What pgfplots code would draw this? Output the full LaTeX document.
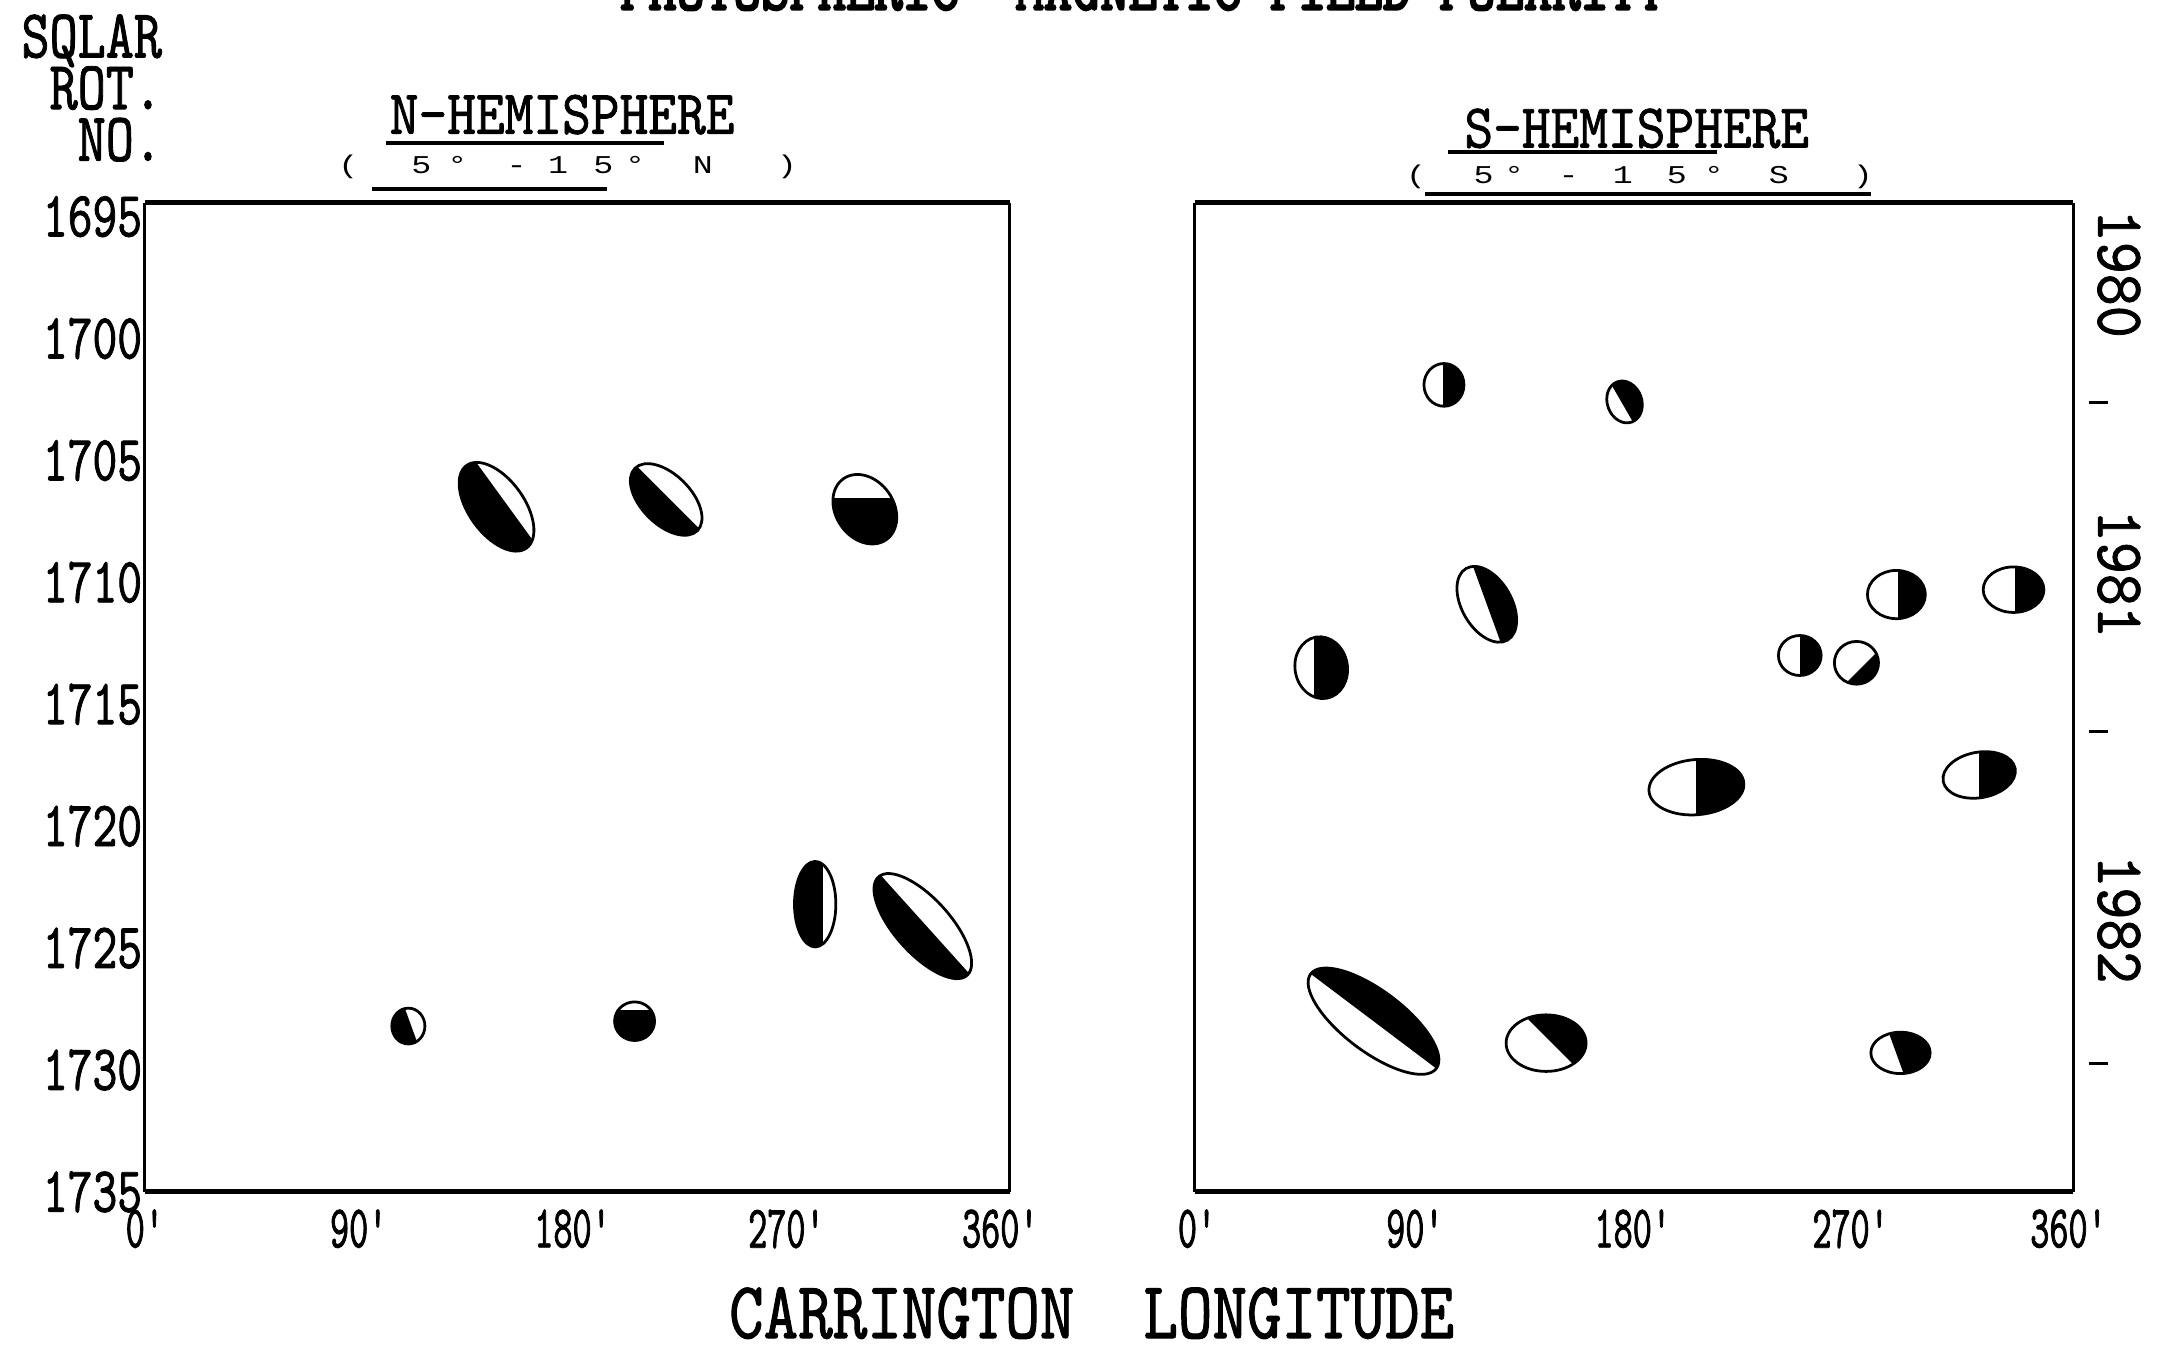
\documentclass[border=0pt]{standalone}
\usepackage{pgfplots}
\usepackage{pgfplotstable}
\pgfplotsset{compat=1.18}
\usepackage{fontspec}
\setmainfont{Liberation Mono}
% condensed typewriter face
\newcommand\tf[2]{\fontspec[FakeStretch=#1,FakeBold=1.2]{lmmono10-regular.otf}\fontsize{#2}{#2}\selectfont}
\newcommand\tfb[2]{\fontspec[FakeStretch=#1,FakeBold=3]{lmmono10-regular.otf}\fontsize{#2}{#2}\selectfont}
\newcommand\tfs{\fontspec[FakeStretch=1.3]{Liberation Mono}\fontsize{6.5pt}{6.5pt}\selectfont}
\newcommand\kk[1]{\kern#1\dimexpr 0.35pt\relax}
\def\U{0.35pt}

% custom mark: ellipse (semi-axes \ra,\rb in units \U, rotated \tht),
% black part = side of a chord, direction \phig (global), offset \cc
\pgfdeclareplotmark{blob}{%
  \pgfsetlinewidth{0.7pt}%
  \pgfsetstrokecolor{black}\pgfsetfillcolor{black}%
  \pgfmathsetmacro\relang{\phig-\tht}%
  \pgfscope
    \pgftransformrotate{\tht}%
    \pgfscope
      \pgfpathellipse{\pgfpointorigin}{\pgfpoint{\ra*\U}{0pt}}{\pgfpoint{0pt}{\rb*\U}}%
      \pgfusepath{clip}%
      \pgftransformrotate{\relang}%
      \pgfpathrectanglecorners{\pgfpoint{\cc*\U}{-100pt}}{\pgfpoint{100pt}{100pt}}%
      \pgfusepath{fill}%
    \endpgfscope
    \pgfpathellipse{\pgfpointorigin}{\pgfpoint{\ra*\U}{0pt}}{\pgfpoint{0pt}{\rb*\U}}%
    \pgfusepath{stroke}%
  \endpgfscope
}

\pgfplotstableread{
lon   rot    a    b    th   ph   c
148.0 1706.9 37   20   -54 -144 -7
219.4 1706.6 32   18   -45 -135 -2
303.0 1707.0 27   21   -55  -90 -8
282.1 1723.2 15   31     0  180 -6
327.4 1724.1 48   20   -48 -138 -2
110.9 1728.2 12   13     0  200 -2
206.1 1728.0 14.5 14     0  -90 -8
}\Ltab

\pgfplotstableread{
lon   rot    a    b    th   ph   c
102.0 1701.9 14.5 15.5   0    0 -1
176.6 1702.6 12.5 15.5  20   30 -2
119.7 1710.9 30   18   -60   20  0
51.3  1713.5 19   22.5  10    0 -5
288.9 1710.5 21   17.5   0    0  1
337.3 1710.3 22   16.5   0    0  1
249.0 1713.0 15.5 14.5   0    0  0
272.4 1713.3 16   15.5   0  -45  5
206.3 1718.4 34.5 20     5    0  0
323.1 1717.9 26.5 16.5  10    0  0
72.9  1728.0 57   22   -37   53  0
144.2 1728.9 29   20.5   0   45  3
290.6 1729.3 21.5 15     0   20 -3
}\Rtab

\pgfplotsset{
  blobaxis/.style={
    anchor=south west, scale only axis, height=250.95pt,
    ymin=1694.43, ymax=1735, y dir=reverse,
    xtick={0,90,180,270,360},
    xticklabels={0',90',180',270',360'},
    major tick length=0pt,
    separate axis lines,
    x axis line style={line width=1.3pt},
    y axis line style={line width=0.8pt},
    xticklabel style={font=\tf{0.6}{15.4pt}, inner sep=1pt, yshift=-3.3pt},
    yticklabel style={font=\tf{0.73}{16.4pt}, inner sep=0.5pt},
  },
  blobplot/.style={
    scatter, only marks, mark=blob,
    scatter/@pre marker code/.code={},
    scatter/@post marker code/.code={},
    visualization depends on={\thisrow{a} \as \ra},
    visualization depends on={\thisrow{b} \as \rb},
    visualization depends on={\thisrow{th} \as \tht},
    visualization depends on={\thisrow{ph} \as \phig},
    visualization depends on={\thisrow{c} \as \cc},
  },
}

\begin{document}
\begin{tikzpicture}
\begin{axis}[blobaxis, at={(36.75pt,39.2pt)}, width=219.45pt,
  xmin=0, xmax=364,
  ytick={1695,1700,1705,1710,1715,1720,1725,1730,1735},
  yticklabels={1695,1700,1705,1710,1715,1720,1725,1730,1735}]
\addplot[blobplot] table[x=lon, y=rot] {\Ltab};
\end{axis}
\begin{axis}[blobaxis, at={(303.1pt,39.2pt)}, width=222.95pt,
  xmin=-1, xmax=362, ytick=\empty]
\addplot[blobplot] table[x=lon, y=rot] {\Rtab};
\end{axis}

\begin{scope}[x=0.35pt, y=0.35pt]
  % title (cut by the top edge)
  \node[anchor=base west, inner sep=0] at (449,969)
    {\tfb{0.78}{17.5pt}PHOTOSPHERIC~~MAGNETIC FIELD POLARITY};
  % y axis title (one stacked node)
  \node[anchor=north east, inner sep=0, align=right,
        font=\tf{0.776}{17.5pt}] at (118,966)
    {SQLAR\\[-4.4pt]ROT.\\[-4.4pt]NO.};
  % panel headers
  \node[anchor=base west, inner sep=0] at (282,879) {\tf{0.873}{15.9pt}N-HEMISPHERE};
  \draw[line width=1pt] (280,872.5) -- (481,872.5);
  \node[anchor=base west, inner sep=0] at (244.75,850)
    {\tfs (\kk{38.5}5\kk{11.5}°\kk{28.5}-\kk{15.5}1\kk{18.5}5\kk{8.5}°\kk{34.5}N\kk{46.5})};
  \draw[line width=1pt] (270,839) -- (440,839);
  \node[anchor=base west, inner sep=0] at (1061,869) {\tf{0.873}{15.9pt}S-HEMISPHERE};
  \draw[line width=1pt] (1050,866) -- (1245,866);
  \node[anchor=base west, inner sep=0] at (1018.75,843)
    {\tfs (\kk{34.5}5\kk{7.5}°\kk{25}-\kk{25}1\kk{24.5}5\kk{12.5}°\kk{32.5}S\kk{46.5})};
  \draw[line width=1pt] (1033,835) -- (1356,835);
  % x axis title
  \node[anchor=base west, inner sep=0] at (528,6) {\tf{0.81}{20.6pt}CARRINGTON~~LONGITUDE};
  % years on the right
  \node[rotate=-90, inner sep=0] at (1536,777.5) {\tf{0.9}{17.2pt}1980};
  \node[rotate=-90, inner sep=0] at (1536,560) {\tf{0.9}{17.2pt}1981};
  \node[rotate=-90, inner sep=0] at (1536,309.5) {\tf{0.9}{17.2pt}1982};
  \draw[line width=0.8pt] (1514,684) -- (1528,684);
  \draw[line width=0.8pt] (1514,445.4) -- (1528,445.4);
  \draw[line width=0.8pt] (1514,205.2) -- (1528,205.2);
\end{scope}
\pgfresetboundingbox
\useasboundingbox (0,0) rectangle (548.8pt,341.6pt);
\end{tikzpicture}
\end{document}
